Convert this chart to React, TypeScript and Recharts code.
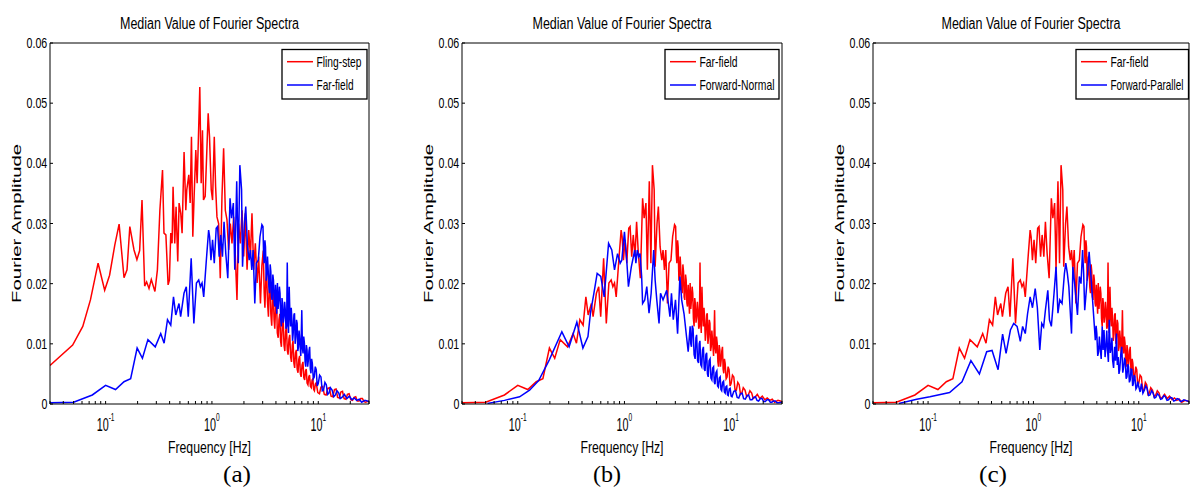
import { LineChart, Line, XAxis, YAxis } from "recharts"

// Far-field median spectrum (shared by all three panels)
const farFieldHz = [
  0.03, 0.05, 0.075, 0.1, 0.124, 0.149, 0.172, 0.198, 0.222, 0.25, 0.293, 0.33, 0.355, 0.382, 0.41, 0.435,
  0.457, 0.49, 0.508, 0.546, 0.574, 0.599, 0.638, 0.676, 0.715, 0.751, 0.779, 0.807, 0.837, 0.886, 0.931, 0.951,
  0.979, 1.014, 1.052, 1.097, 1.13, 1.17, 1.21, 1.256, 1.3, 1.35, 1.41, 1.48, 1.53, 1.59, 1.64, 1.71,
  1.77, 1.83, 1.9, 1.94, 2.02, 2.08, 2.16, 2.24, 2.3, 2.37, 2.44, 2.53, 2.62, 2.73, 2.83,
  2.95, 3.02, 3.06, 3.1, 3.15, 3.19, 3.24, 3.29, 3.33, 3.38, 3.43, 3.48, 3.53, 3.58, 3.63, 3.68,
  3.74, 3.79, 3.85, 3.9, 3.96, 4.01, 4.07, 4.13, 4.19, 4.25, 4.31, 4.37, 4.43, 4.5, 4.56, 4.62,
  4.69, 4.76, 4.83, 4.9, 4.97, 5.04, 5.11, 5.18, 5.25, 5.33, 5.41, 5.49, 5.57, 5.65, 5.73, 5.81,
  5.9, 5.98, 6.06, 6.15, 6.24, 6.33, 6.42, 6.51, 6.6, 6.7, 6.85, 7.0, 7.1, 7.2, 7.3, 7.41,
  7.52, 7.62, 7.73, 7.84, 7.95, 8.07, 8.18, 8.3, 8.42, 8.54, 8.66, 8.79, 8.98, 9.17, 9.37, 9.57,
  9.78, 10.0, 10.3, 10.6, 10.9, 11.2, 11.55, 11.9, 12.25, 12.6, 13.0, 13.5, 14.0, 14.5, 15.0, 15.6,
  16.1, 16.7, 17.6, 18.6, 19.6, 20.7, 21.8, 23.0, 24.3, 25.6, 27.5, 30
]
const farFieldAmp = [
  0.0002, 0.0003, 0.0015, 0.0031, 0.0024, 0.0037, 0.0042, 0.0093, 0.0076, 0.0107, 0.0095, 0.0117, 0.0101, 0.014, 0.0131, 0.0178,
  0.0148, 0.0167, 0.0145, 0.0184, 0.0195, 0.0145, 0.0242, 0.0134, 0.0201, 0.0206, 0.0195, 0.0201, 0.0178, 0.0239, 0.0289, 0.0278,
  0.0239, 0.0273, 0.0234, 0.0292, 0.0295, 0.0245, 0.0281, 0.0245, 0.0303, 0.025, 0.0209, 0.0342, 0.0309, 0.0334, 0.0223, 0.037,
  0.0234, 0.0397, 0.0356, 0.0228, 0.03, 0.0328, 0.0261, 0.0239, 0.0256, 0.0223, 0.0256, 0.0167, 0.0234, 0.0239, 0.0278,
  0.0298, 0.0295, 0.025, 0.0234, 0.0272, 0.0261, 0.0205, 0.0217, 0.0245, 0.0223, 0.0195, 0.0184, 0.0232, 0.022, 0.0178, 0.0173,
  0.0215, 0.0206, 0.0168, 0.0162, 0.0198, 0.0178, 0.015, 0.0201, 0.0158, 0.0173, 0.0195, 0.0184, 0.0142, 0.0129, 0.0176, 0.0167,
  0.0135, 0.0145, 0.017, 0.0156, 0.0125, 0.0129, 0.0235, 0.014, 0.0118, 0.0195, 0.015, 0.0129, 0.016, 0.014, 0.0105, 0.0117,
  0.0148, 0.0151, 0.01, 0.0112, 0.014, 0.0134, 0.0088, 0.0095, 0.0122, 0.0106, 0.008, 0.0156, 0.0092, 0.0084, 0.0112, 0.0101,
  0.007, 0.0062, 0.0098, 0.009, 0.0062, 0.0073, 0.0088, 0.0095, 0.0058, 0.0051, 0.0075, 0.0068, 0.0042, 0.0045, 0.0062, 0.0057,
  0.003, 0.0034, 0.0048, 0.0045, 0.0022, 0.0023, 0.0036, 0.0032, 0.0016, 0.0018, 0.0027, 0.0023, 0.0012, 0.0015, 0.0022, 0.0018,
  0.0009, 0.0011, 0.0016, 0.0009, 0.0013, 0.0007, 0.001, 0.0006, 0.0008, 0.0003, 0.0006, 0.0004
]

// Fling-step median spectrum, panel (a)
const flingHz = [
  0.03, 0.049, 0.061, 0.072, 0.085, 0.098, 0.109, 0.122, 0.134, 0.149, 0.159, 0.169, 0.185, 0.197, 0.209, 0.22,
  0.233, 0.243, 0.256, 0.269, 0.291, 0.307, 0.324, 0.343, 0.354, 0.369, 0.387, 0.398, 0.41, 0.422, 0.431, 0.447,
  0.46, 0.477, 0.491, 0.509, 0.524, 0.547, 0.568, 0.58, 0.606, 0.624, 0.642, 0.661, 0.68, 0.705, 0.726, 0.769,
  0.792, 0.815, 0.833, 0.864, 0.896, 0.922, 0.949, 0.985, 1.014, 1.052, 1.083, 1.115, 1.156, 1.198, 1.243, 1.288,
  1.336, 1.385, 1.436, 1.489, 1.544, 1.6, 1.66, 1.72, 1.78, 1.85, 1.92, 1.99, 2.06, 2.14, 2.22, 2.3,
  2.38, 2.47, 2.56, 2.66, 2.75, 2.86, 2.95, 3.04, 3.1, 3.15, 3.21, 3.27, 3.33, 3.4, 3.45, 3.51,
  3.58, 3.65, 3.71, 3.77, 3.84, 3.9, 3.97, 4.05, 4.12, 4.2, 4.27, 4.35, 4.42, 4.5, 4.58, 4.67,
  4.76, 4.85, 4.93, 5.02, 5.11, 5.2, 5.3, 5.39, 5.5, 5.6, 5.7, 5.79, 5.9, 6.0, 6.11, 6.22,
  6.33, 6.45, 6.56, 6.68, 6.79, 6.9, 7.04, 7.18, 7.31, 7.45, 7.58, 7.71, 7.85, 8.0, 8.14, 8.28,
  8.44, 8.6, 8.75, 8.9, 9.05, 9.2, 9.38, 9.56, 9.9, 10.27, 10.6, 11.0, 11.4, 11.85, 12.3, 12.7,
  13.2, 13.7, 14.2, 14.7, 15.2, 15.8, 16.3, 16.9, 17.5, 18.2, 18.8, 19.5, 20.2, 21.0, 21.7, 22.5,
  23.3, 24.2, 25.1, 26.0, 27.0, 27.9, 30
]
const flingAmp = [
  0.0064, 0.0098, 0.0129, 0.0173, 0.0234, 0.0189, 0.0214, 0.0264, 0.0299, 0.021, 0.0223, 0.0295, 0.0256, 0.024, 0.0255, 0.0339,
  0.0196, 0.0203, 0.0192, 0.0207, 0.0187, 0.0223, 0.0322, 0.0389, 0.0284, 0.0281, 0.0198, 0.0206, 0.0284, 0.0267, 0.0361, 0.0267,
  0.0328, 0.0237, 0.0334, 0.0317, 0.0284, 0.0419, 0.0322, 0.0356, 0.0381, 0.0334, 0.0444, 0.0278, 0.0345, 0.0422, 0.0367, 0.0527,
  0.0367, 0.0455, 0.0339, 0.0345, 0.0422, 0.0483, 0.0444, 0.0356, 0.0339, 0.0444, 0.0361, 0.0311, 0.03, 0.0209, 0.0345, 0.0425,
  0.0322, 0.0306, 0.0256, 0.03, 0.0267, 0.0311, 0.0245, 0.0173, 0.03, 0.0267, 0.0322, 0.0245, 0.0317, 0.0223, 0.0289, 0.0245,
  0.0317, 0.0223, 0.0267, 0.0201, 0.0245, 0.0167, 0.023, 0.0255, 0.0185, 0.016, 0.0205, 0.022, 0.017, 0.0145, 0.019, 0.021,
  0.015, 0.013, 0.0172, 0.019, 0.014, 0.0125, 0.016, 0.0175, 0.0118, 0.011, 0.014, 0.015, 0.0105, 0.0095, 0.013, 0.0145,
  0.0098, 0.0088, 0.012, 0.013, 0.009, 0.0082, 0.0108, 0.0115, 0.0078, 0.007, 0.0098, 0.0105, 0.0068, 0.006, 0.0085, 0.009,
  0.0058, 0.0052, 0.0074, 0.008, 0.005, 0.0045, 0.0065, 0.007, 0.0044, 0.004, 0.0055, 0.0058, 0.0035, 0.0032, 0.0045, 0.0048,
  0.0029, 0.0027, 0.004, 0.0042, 0.0024, 0.0022, 0.0033, 0.0035, 0.0019, 0.0017, 0.0028, 0.0029, 0.0016, 0.0015, 0.0026, 0.0027,
  0.0013, 0.0012, 0.0024, 0.0025, 0.0011, 0.001, 0.002, 0.0021, 0.0009, 0.0008, 0.0016, 0.0017, 0.0007, 0.0006, 0.0011, 0.0012,
  0.0005, 0.0005, 0.0009, 0.0009, 0.0004, 0.0003, 0.0005
]

// Forward-Normal median spectrum, panel (b)
const normalHz = [
  0.052, 0.075, 0.104, 0.129, 0.157, 0.197, 0.259, 0.303, 0.358, 0.408, 0.455, 0.48, 0.517, 0.555, 0.6, 0.646,
  0.71, 0.761, 0.807, 0.862, 0.912, 0.945, 1.0, 1.05, 1.09, 1.16, 1.25, 1.28, 1.32, 1.36, 1.4, 1.45,
  1.48, 1.55, 1.62, 1.7, 1.78, 1.88, 1.94, 2.01, 2.11, 2.18, 2.3, 2.49, 2.58, 2.67, 2.76, 2.87,
  3.01, 3.15, 3.31, 3.44, 3.62, 3.82, 3.96, 4.13, 4.19, 4.25, 4.32, 4.4, 4.5, 4.6, 4.68, 4.75,
  4.85, 4.95, 5.02, 5.1, 5.2, 5.3, 5.4, 5.5, 5.6, 5.7, 5.8, 5.9, 6.0, 6.1, 6.22, 6.35,
  6.47, 6.6, 6.72, 6.85, 6.96, 7.07, 7.21, 7.35, 7.47, 7.6, 7.75, 7.9, 8.03, 8.16, 8.33, 8.5,
  8.65, 8.8, 8.95, 9.1, 9.25, 9.4, 9.6, 9.8, 10.0, 10.2, 10.6, 11.0, 11.4, 11.8, 12.2, 12.7,
  13.1, 13.6, 14.1, 14.6, 15.1, 15.7, 16.3, 16.9, 17.5, 18.1, 18.8, 19.5, 20.2, 20.9, 21.7, 22.5,
  23.3, 24.1, 25.0, 26.0, 26.9, 27.8, 30
]
const normalAmp = [
  0.0001, 0.0006, 0.0012, 0.0023, 0.0039, 0.0073, 0.012, 0.0095, 0.0136, 0.0093, 0.0112, 0.0151, 0.0184, 0.0217, 0.0212, 0.0178,
  0.0267, 0.0256, 0.0223, 0.025, 0.0234, 0.0239, 0.0286, 0.024, 0.0195, 0.0228, 0.0256, 0.0234, 0.0256, 0.0245, 0.025, 0.0212,
  0.0167, 0.0173, 0.0195, 0.0151, 0.0184, 0.0256, 0.0206, 0.0173, 0.0134, 0.0184, 0.0173, 0.0189, 0.0167, 0.0145, 0.0184, 0.014,
  0.0173, 0.0117, 0.0212, 0.0173, 0.015, 0.0112, 0.0087, 0.0129, 0.01, 0.0095, 0.013, 0.0125, 0.0082, 0.0075, 0.011, 0.0115,
  0.0072, 0.0068, 0.01, 0.0105, 0.0065, 0.0062, 0.009, 0.0095, 0.0058, 0.0055, 0.0082, 0.0085, 0.005, 0.0045, 0.0072, 0.0075,
  0.0043, 0.004, 0.006, 0.0062, 0.0036, 0.0033, 0.0052, 0.0055, 0.003, 0.0028, 0.0043, 0.0045, 0.0024, 0.0022, 0.0036, 0.0038,
  0.002, 0.0018, 0.0029, 0.003, 0.0015, 0.0014, 0.0025, 0.0026, 0.0013, 0.0012, 0.0021, 0.0022, 0.0011, 0.001, 0.0017, 0.0018,
  0.0009, 0.0008, 0.0014, 0.0015, 0.0007, 0.0007, 0.0011, 0.0012, 0.0006, 0.0005, 0.0009, 0.0009, 0.0004, 0.0004, 0.0007, 0.0007,
  0.0003, 0.0003, 0.0005, 0.0005, 0.0002, 0.0002, 0.0003
]

// Forward-Parallel median spectrum, panel (c)
const parallelHz = [
  0.053, 0.078, 0.104, 0.16, 0.21, 0.255, 0.307, 0.36, 0.405, 0.462, 0.51, 0.55, 0.605, 0.65, 0.7, 0.751,
  0.79, 0.837, 0.88, 0.931, 0.98, 1.04, 1.09, 1.15, 1.2, 1.25, 1.3, 1.37, 1.42, 1.48, 1.57, 1.64,
  1.71, 1.78, 1.87, 1.97, 2.03, 2.1, 2.17, 2.3, 2.37, 2.48, 2.62, 2.73, 2.83, 2.93, 3.0, 3.07,
  3.2, 3.38, 3.52, 3.68, 3.87, 3.94, 4.0, 4.08, 4.16, 4.23, 4.3, 4.4, 4.5, 4.59, 4.68, 4.79,
  4.9, 4.97, 5.05, 5.15, 5.25, 5.37, 5.49, 5.57, 5.65, 5.77, 5.9, 6.02, 6.15, 6.26, 6.38, 6.49,
  6.6, 6.75, 6.9, 7.05, 7.2, 7.32, 7.45, 7.59, 7.73, 7.86, 8.0, 8.15, 8.3, 8.45, 8.6, 8.75,
  8.9, 9.05, 9.2, 9.4, 9.6, 9.8, 10.0, 10.3, 10.6, 10.95, 11.3, 11.65, 12.0, 12.4, 12.8, 13.25,
  13.7, 14.1, 14.5, 15.05, 15.6, 16.15, 16.7, 17.3, 17.9, 18.55, 19.2, 19.95, 20.7, 21.5, 22.3, 23.15,
  24.0, 24.9, 25.8, 26.8, 27.8, 30
]
const parallelAmp = [
  0.0001, 0.0008, 0.0012, 0.0019, 0.0037, 0.0072, 0.005, 0.0087, 0.0089, 0.0057, 0.0116, 0.0084, 0.0123, 0.0134, 0.0129, 0.0104,
  0.0129, 0.0117, 0.015, 0.0178, 0.016, 0.0192, 0.016, 0.009, 0.0134, 0.0128, 0.0156, 0.0189, 0.014, 0.0129, 0.0184, 0.0228,
  0.0151, 0.0173, 0.0167, 0.0217, 0.0234, 0.0217, 0.0195, 0.0117, 0.0228, 0.0195, 0.0148, 0.0212, 0.02, 0.0256, 0.0217, 0.0156,
  0.0195, 0.0253, 0.0212, 0.0162, 0.0106, 0.013, 0.0117, 0.008, 0.0087, 0.0112, 0.0095, 0.0075, 0.0129, 0.009, 0.0123, 0.0078,
  0.0101, 0.0122, 0.009, 0.007, 0.014, 0.0085, 0.0095, 0.011, 0.0073, 0.006, 0.0095, 0.0072, 0.0117, 0.0065, 0.0078, 0.005,
  0.0057, 0.0082, 0.0095, 0.0052, 0.0062, 0.0075, 0.0073, 0.0042, 0.0045, 0.0066, 0.0062, 0.0036, 0.004, 0.0058, 0.0057, 0.003,
  0.0034, 0.0048, 0.0045, 0.0025, 0.0028, 0.0037, 0.0029, 0.002, 0.0034, 0.0018, 0.0023, 0.003, 0.0026, 0.0014, 0.0015, 0.0022,
  0.0018, 0.001, 0.0011, 0.0017, 0.0014, 0.0008, 0.0009, 0.0014, 0.0012, 0.0006, 0.0007, 0.0011, 0.001, 0.0005, 0.0006, 0.0009,
  0.0008, 0.0004, 0.0005, 0.0007, 0.0006, 0.0004
]

const xTicks = [
  0.03, 0.04, 0.05, 0.06, 0.07, 0.08, 0.09, 0.1, 0.2, 0.3, 0.4, 0.5, 0.6, 0.7, 0.8, 0.9,
  1, 2, 3, 4, 5, 6, 7, 8, 9, 10, 20, 30
]
const yTicks = [0, 0.01, 0.02, 0.03, 0.04, 0.05, 0.06]

const RED = "#ff0000"
const BLUE = "#0000ff"
const SANS = "'Liberation Sans', Arial, sans-serif"
const SERIF = "'Liberation Serif', 'Times New Roman', serif"

const PLOT_TOP = 43
const PLOT_BOTTOM = 404
const LEFT_PAD = 50
const RIGHT_PAD = 10
const NARROW = 0.72

const toRows = (hz: number[], amp: number[]) => hz.map((f, i) => ({ f, amp: amp[i] }))

const farRows = toRows(farFieldHz, farFieldAmp)
const flingRows = toRows(flingHz, flingAmp)
const normalRows = toRows(normalHz, normalAmp)
const parallelRows = toRows(parallelHz, parallelAmp)

function XTick(props: any) {
  const { x, payload } = props
  const exp = Math.log10(payload.value)
  if (Math.abs(exp - Math.round(exp)) > 1e-6) return <g />
  return (
    <g transform={`translate(${x},431) scale(0.6,1)`}>
      <text textAnchor="middle" fontFamily={SANS} fontSize={18} fill="#000">
        10<tspan dy={-10} fontSize={11}>{Math.round(exp)}</tspan>
      </text>
    </g>
  )
}

function YTick(props: any) {
  const { y, payload } = props
  const label = payload.value === 0 ? "0" : payload.value.toFixed(2)
  return (
    <g transform={`translate(${LEFT_PAD - 2.7},${y + 5}) scale(0.71,1)`}>
      <text textAnchor="end" fontFamily={SANS} fontSize={15} fill="#000">{label}</text>
    </g>
  )
}

interface Series {
  name: string
  color: string
  rows: { f: number; amp: number }[]
  textW: number
}

interface PanelProps {
  plotLeft: number
  plotW: number
  series: Series[]
}

const axisStyle = { stroke: "#000", strokeWidth: 1 }

function Panel({ plotLeft, plotW, series }: PanelProps) {
  const width = LEFT_PAD + plotW + RIGHT_PAD
  return (
    <div style={{ position: "absolute", left: plotLeft - LEFT_PAD, top: 0 }}>
      <LineChart
        width={width}
        height={489}
        margin={{ top: PLOT_TOP, right: RIGHT_PAD, bottom: 489 - PLOT_BOTTOM, left: LEFT_PAD }}
      >
        <XAxis
          xAxisId="b"
          type="number"
          dataKey="f"
          scale="log"
          domain={[0.03, 30]}
          allowDataOverflow
          ticks={xTicks}
          interval={0}
          mirror
          tick={XTick}
          tickSize={3}
          axisLine={axisStyle}
          tickLine={axisStyle}
        />
        <XAxis
          xAxisId="t"
          orientation="top"
          type="number"
          dataKey="f"
          scale="log"
          domain={[0.03, 30]}
          allowDataOverflow
          ticks={xTicks}
          interval={0}
          mirror
          tick={false}
          tickSize={3}
          axisLine={axisStyle}
          tickLine={axisStyle}
        />
        <YAxis
          yAxisId="l"
          type="number"
          domain={[0, 0.06]}
          allowDataOverflow
          ticks={yTicks}
          interval={0}
          mirror
          tick={YTick}
          tickSize={3}
          axisLine={axisStyle}
          tickLine={axisStyle}
        />
        <YAxis
          yAxisId="r"
          orientation="right"
          type="number"
          domain={[0, 0.06]}
          allowDataOverflow
          ticks={yTicks}
          interval={0}
          mirror
          tick={false}
          tickSize={3}
          axisLine={axisStyle}
          tickLine={axisStyle}
        />
        <Line
          xAxisId="t"
          yAxisId="r"
          data={farRows}
          dataKey="amp"
          stroke="none"
          dot={false}
          isAnimationActive={false}
        />
        {series.map((s) => (
          <Line
            key={s.name}
            xAxisId="b"
            yAxisId="l"
            data={s.rows}
            dataKey="amp"
            name={s.name}
            type="linear"
            stroke={s.color}
            strokeWidth={1.5}
            dot={false}
            isAnimationActive={false}
          />
        ))}
      </LineChart>
    </div>
  )
}

const panels = [
  {
    caption: "(a)",
    captionX: 237,
    plotLeft: 50,
    plotW: 319,
    legendLeft: 282,
    legendRight: 367,
    series: [
      { name: "Fling-step", color: RED, rows: flingRows, textW: 45 },
      { name: "Far-field", color: BLUE, rows: farRows, textW: 37 }
    ]
  },
  {
    caption: "(b)",
    captionX: 607,
    plotLeft: 462,
    plotW: 320,
    legendLeft: 665,
    legendRight: 779,
    series: [
      { name: "Far-field", color: RED, rows: farRows, textW: 38 },
      { name: "Forward-Normal", color: BLUE, rows: normalRows, textW: 75 }
    ]
  },
  {
    caption: "(c)",
    captionX: 993,
    plotLeft: 873,
    plotW: 316,
    legendLeft: 1076,
    legendRight: 1188.5,
    series: [
      { name: "Far-field", color: RED, rows: farRows, textW: 38 },
      { name: "Forward-Parallel", color: BLUE, rows: parallelRows, textW: 73 }
    ]
  }
]

export default function App() {
  return (
    <div style={{ position: "absolute", left: 0, top: 0, width: 1190, height: 489, background: "#fff", overflow: "hidden" }}>
      {panels.map((p) => (
        <Panel key={p.caption} plotLeft={p.plotLeft} plotW={p.plotW} series={p.series} />
      ))}
      <svg width={1190} height={489} style={{ position: "absolute", left: 0, top: 0, pointerEvents: "none" }}>
        {panels.map((p) => {
          const cx = p.plotLeft + p.plotW / 2
          const cy = (PLOT_TOP + PLOT_BOTTOM) / 2
          return (
            <g key={p.caption}>
              <text x={cx} y={28.5} textAnchor="middle" fontFamily={SANS} fontSize={16} textLength={179} lengthAdjust="spacingAndGlyphs">
                Median Value of Fourier Spectra
              </text>
              <text x={cx} y={453} textAnchor="middle" fontFamily={SANS} fontSize={16} textLength={83} lengthAdjust="spacingAndGlyphs">
                Frequency [Hz]
              </text>
              <text
                x={0}
                y={0}
                transform={`translate(${p.plotLeft - 29},${cy}) rotate(-90)`}
                textAnchor="middle"
                fontFamily={SANS}
                fontSize={13}
                textLength={159}
                lengthAdjust="spacingAndGlyphs"
              >
                Fourier Amplitude
              </text>
              <text x={p.captionX} y={481.5} textAnchor="middle" fontFamily={SERIF} fontSize={24} textLength={28} lengthAdjust="spacingAndGlyphs">
                {p.caption}
              </text>
              <rect
                x={p.legendLeft}
                y={49.5}
                width={p.legendRight - p.legendLeft}
                height={49.5}
                fill="#fff"
                stroke="#000"
                strokeWidth={1.3}
              />
              {p.series.map((s, i) => {
                const ly = 61.7 + i * 23.3
                return (
                  <g key={s.name}>
                    <line x1={p.legendLeft + 5} x2={p.legendLeft + 31} y1={ly} y2={ly} stroke={s.color} strokeWidth={1.5} />
                    <g transform={`translate(${p.legendLeft + 34.5},${ly + 5}) scale(${NARROW},1)`}>
                      <text
                        x={0}
                        y={0}
                        fontFamily={SANS}
                        fontSize={14}
                        textLength={s.textW / NARROW}
                        lengthAdjust="spacingAndGlyphs"
                      >
                        {s.name}
                      </text>
                    </g>
                  </g>
                )
              })}
            </g>
          )
        })}
      </svg>
    </div>
  )
}
